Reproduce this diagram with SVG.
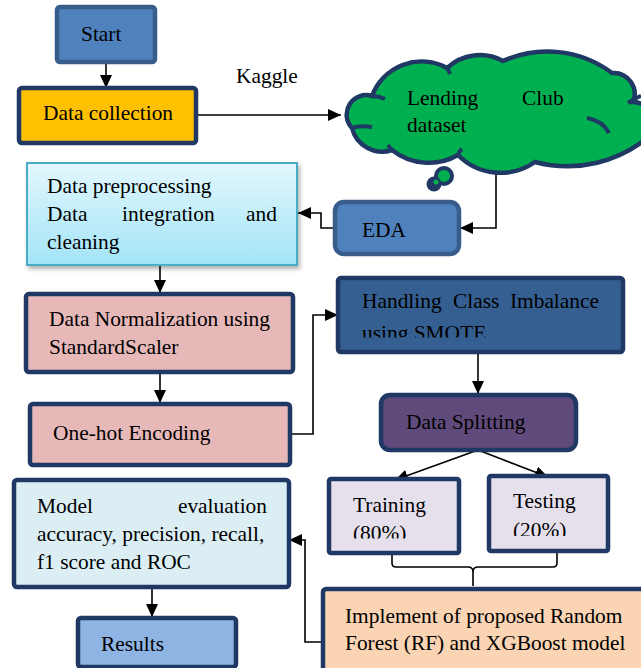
<svg xmlns="http://www.w3.org/2000/svg" width="641" height="668" viewBox="0 0 641 668">
<defs>
<marker id="arr" markerUnits="userSpaceOnUse" markerWidth="13" markerHeight="12" refX="13" refY="6" orient="auto"><path d="M0,0 L13,6 L0,12 z" fill="#000"/></marker>
<linearGradient id="cyan" x1="0" y1="0" x2="0" y2="1"><stop offset="0" stop-color="#e2f7fd"/><stop offset="1" stop-color="#a3e4f7"/></linearGradient>
<filter id="sh" x="-5%" y="-5%" width="115%" height="120%"><feDropShadow dx="2" dy="3" stdDeviation="2" flood-color="#000" flood-opacity="0.3"/></filter>
<clipPath id="c1"><rect x="330" y="270" width="300" height="67.5"/></clipPath>
<clipPath id="c2"><rect x="320" y="470" width="150" height="68.5"/></clipPath>
<clipPath id="c3"><rect x="480" y="470" width="150" height="66"/></clipPath>
</defs>
<style>
text{font-family:"Liberation Serif","Times New Roman",serif;font-size:21.4px;fill:#000}
.bx{stroke:#1f3864;stroke-width:4.5}
.cn{fill:none;stroke:#000;stroke-width:1.6}
.ar{marker-end:url(#arr)}
</style>
<g id="connectors">
<path class="cn ar" d="M106,62 V88"/>
<path class="cn ar" d="M196,115 H341"/>
<path class="cn ar" d="M496,173 V228 H460"/>
<path class="cn ar" d="M334,228 H321 V213 H298"/>
<path class="cn ar" d="M160,265 V293"/>
<path class="cn ar" d="M160,372 V403"/>
<path class="cn ar" d="M290,434 H313 V315 H338"/>
<path class="cn ar" d="M478,352 V394"/>
<path class="cn ar" d="M478,450 L395,480"/>
<path class="cn ar" d="M478,450 L548,477"/>
<path class="cn ar" d="M323,642 H305 V540 H289"/>
<path class="cn ar" d="M152,587 V617"/>
<path class="cn" d="M392,549 V563 Q392,567 396,567 H468 Q473,567 473,572 V586 M473,572 Q473,567 478,567 H553 Q557,567 557,563 V549"/>
</g>
<g id="start"><rect x="57" y="7" width="98" height="55" rx="3" fill="#4f81bd" stroke="#385d8a" stroke-width="4.5"/><text x="81" y="41">Start</text></g>
<g id="data-collection"><rect x="19" y="88" width="177" height="55" rx="3" fill="#ffc000" class="bx"/><text x="43" y="120">Data collection</text></g>
<g id="kaggle"><text x="236" y="83">Kaggle</text></g>
<g id="cloud">
<path d="M352,128 A19.5,19.5 0 0 1 372,96 A53,53 0 0 1 447,68 A48,48 0 0 1 503,61 A108,108 0 0 1 612,73 A21,21 0 0 1 633,102 A20,20 0 0 1 652,128 L652,134 A127,127 0 0 1 535,162 A60,60 0 0 1 458,155 A59,59 0 0 1 392,150 A31,31 0 0 1 352,128 z" fill="#00b050" stroke="#1f3864" stroke-width="4.5"/>
<path d="M587,118 Q603,121 609,133 M628,103 Q635,98 641,96 M372,96 Q379,96 385,99 M447,68 Q449,71 450,74 M458,155 Q459,151 462,149 M392,150 Q390,148 388,145 M352,128 Q360,125 372,127" fill="none" stroke="#1f3864" stroke-width="4"/>
<circle cx="444" cy="176" r="8" fill="#00b050" stroke="#1f3864" stroke-width="4"/>
<circle cx="434" cy="184" r="6" fill="#1f3864" stroke="#1f3864" stroke-width="3"/>
<circle cx="436" cy="182" r="2.5" fill="#00b050"/>
<text x="407" y="105">Lending</text><text x="522" y="105">Club</text><text x="407" y="132">dataset</text>
</g>
<g id="eda"><rect x="335" y="202" width="124" height="52" rx="9" fill="#4f81bd" stroke="#385d8a" stroke-width="4.5"/><text x="362" y="237">EDA</text></g>
<g id="preprocessing"><rect x="27" y="163" width="270" height="102" fill="url(#cyan)" stroke="#4bacc6" stroke-width="2" filter="url(#sh)"/>
<text x="47" y="193">Data preprocessing</text><text x="47" y="221">Data</text><text x="122" y="221">integration</text><text x="277" y="221" text-anchor="end">and</text><text x="47" y="249">cleaning</text></g>
<g id="normalization"><rect x="26" y="294" width="267" height="78" rx="3" fill="#e6b9b8" class="bx"/><text x="49" y="326">Data Normalization using</text><text x="49" y="354">StandardScaler</text></g>
<g id="onehot"><rect x="30" y="404" width="260" height="61" rx="3" fill="#e6b9b8" class="bx"/><text x="53" y="440">One-hot Encoding</text></g>
<g id="smote"><rect x="338" y="278" width="285" height="74" rx="3" fill="#355f91" class="bx"/>
<text x="362" y="308">Handling</text><text x="453" y="308">Class</text><text x="599" y="308" text-anchor="end">Imbalance</text>
<text x="362" y="340" clip-path="url(#c1)">using SMOTE</text></g>
<g id="splitting"><rect x="381" y="395" width="195" height="55" rx="9" fill="#604a7b" class="bx"/><text x="406" y="429">Data Splitting</text></g>
<g id="training"><rect x="329" y="479" width="130" height="74" rx="2" fill="#e5e0ec" class="bx"/><text x="353" y="512">Training</text><text x="353" y="540" clip-path="url(#c2)">(80%)</text></g>
<g id="testing"><rect x="489" y="476" width="119" height="75" rx="2" fill="#e5e0ec" class="bx"/><text x="513" y="508">Testing</text><text x="513" y="537" clip-path="url(#c3)">(20%)</text></g>
<g id="implement"><rect x="323" y="589" width="330" height="90" rx="3" fill="#fbd4b4" class="bx"/><text x="345" y="623">Implement of proposed Random</text><text x="345" y="650">Forest (RF) and XGBoost model</text></g>
<g id="evaluation"><rect x="14" y="480" width="275" height="107" rx="3" fill="#dbeef4" class="bx"/>
<text x="37" y="513">Model</text><text x="267" y="513" text-anchor="end">evaluation</text><text x="37" y="541">accuracy, precision, recall,</text><text x="37" y="569">f1 score and ROC</text></g>
<g id="results"><rect x="78" y="618" width="158" height="49" rx="3" fill="#8eb4e3" class="bx"/><text x="101" y="651">Results</text></g>
</svg>
